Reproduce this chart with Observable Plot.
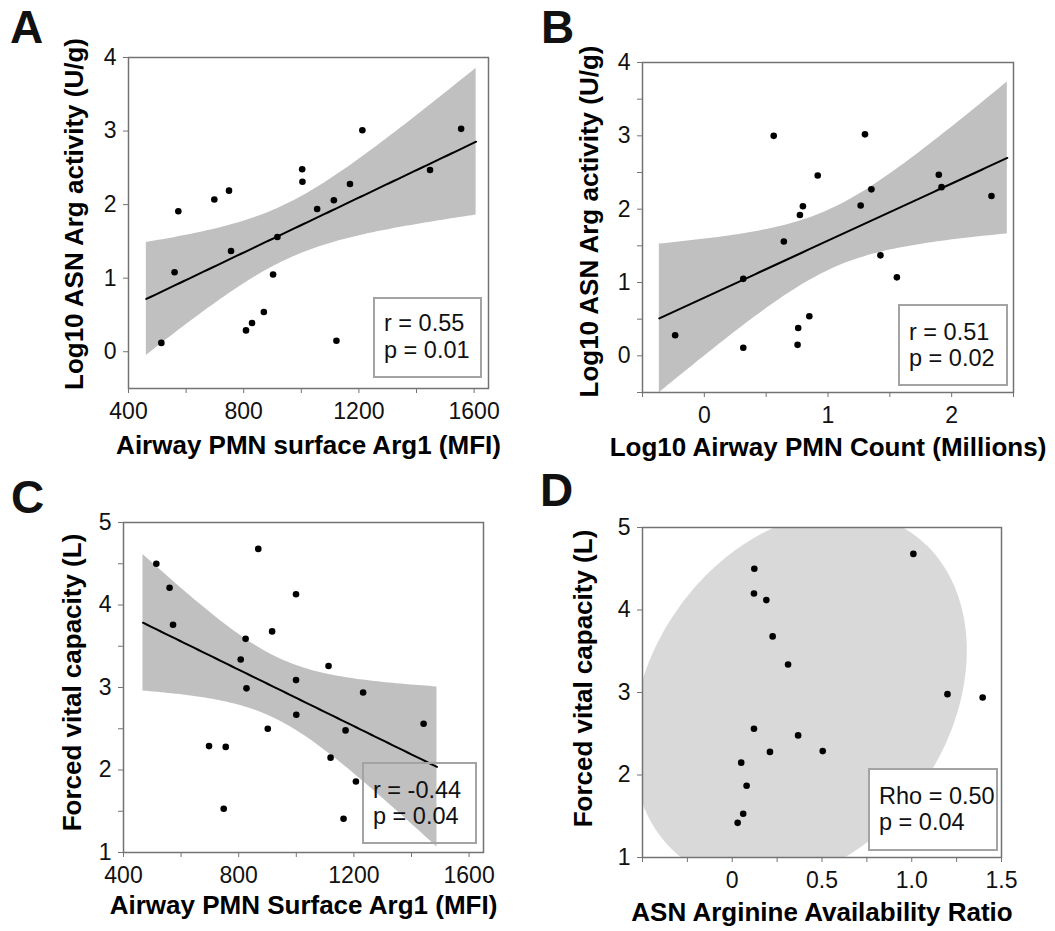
<!DOCTYPE html>
<html>
<head>
<meta charset="utf-8">
<script src="https://cdn.jsdelivr.net/npm/d3@7"></script>
<script src="https://cdn.jsdelivr.net/npm/@observablehq/plot@0.6"></script>
<style>
  body { margin: 0; background: #fff; }
  #fig { position: relative; width: 1055px; height: 931px; font-family: "Liberation Sans", Arial, sans-serif; color: #111; }
  .panel { position: absolute; }
  .letter { position: absolute; font-weight: bold; font-size: 46px; line-height: 46px; }
  .stat { position: absolute; box-sizing: border-box; border: 2.5px solid #a3a3a3; font-size: 23.5px; line-height: 26.5px; padding-left: 9px; white-space: nowrap; }
</style>
</head>
<body>
<div id="fig"></div>
<script>
// ---------- Panel A: Airway PMN surface Arg1 (MFI) vs Log10 ASN Arg activity ----------
const aArg1MFI     = [514, 560, 573, 698, 749, 756, 808, 829, 870, 902, 917, 1003, 1004, 1055, 1113, 1122, 1169, 1212, 1447, 1555];
const aArgActivity = [0.12, 1.08, 1.91, 2.07, 2.19, 1.37, 0.29, 0.39, 0.54, 1.05, 1.56, 2.48, 2.31, 1.94, 2.06, 0.15, 2.28, 3.01, 2.47, 3.03];

// ---------- Panel B: Log10 Airway PMN count vs Log10 ASN Arg activity ----------
const bPMNCount    = [-0.236, 0.315, 0.315, 0.561, 0.643, 0.754, 0.759, 0.773, 0.797, 0.849, 0.917, 1.264, 1.299, 1.351, 1.424, 1.557, 1.896, 1.918, 2.322];
const bArgActivity = [0.28, 1.05, 0.11, 3.00, 1.56, 0.15, 0.38, 1.92, 2.04, 0.54, 2.46, 2.05, 3.02, 2.27, 1.37, 1.07, 2.47, 2.30, 2.18];

// ---------- Panel C: Airway PMN Surface Arg1 (MFI) vs FVC ----------
const cArg1MFI = [514, 560, 572, 697, 748, 755, 807, 824, 827, 868, 901, 916, 999, 999, 1000, 1112, 1119, 1164, 1171, 1207, 1232, 1442];
const cFVC     = [4.50, 4.21, 3.76, 2.29, 1.53, 2.28, 3.34, 3.59, 2.99, 4.68, 2.50, 3.68, 4.13, 3.09, 2.67, 3.26, 2.15, 1.41, 2.48, 1.86, 2.94, 2.56];

// ---------- Panel D: ASN Arginine Availability Ratio vs FVC ----------
const dRatio = [0.030, 0.050, 0.061, 0.080, 0.121, 0.121, 0.123, 0.190, 0.210, 0.225, 0.311, 0.367, 0.504, 1.009, 1.199, 1.395];
const dFVC   = [1.42, 2.15, 1.53, 1.87, 2.56, 4.20, 4.50, 4.12, 2.28, 3.68, 3.34, 2.48, 2.29, 4.68, 2.98, 2.94];

// ---------- Axis titles, tick values and tick labels ----------
const titles = {
  aX: "Airway PMN surface Arg1 (MFI)", aY: "Log10 ASN Arg activity (U/g)",
  bX: "Log10 Airway PMN Count (Millions)", bY: "Log10 ASN Arg activity (U/g)",
  cX: "Airway PMN Surface Arg1 (MFI)", cY: "Forced vital capacity (L)",
  dX: "ASN Arginine Availability Ratio", dY: "Forced vital capacity (L)"
};
const aXTicks = [400, 600, 800, 1000, 1200, 1400, 1600], aXLabels = ["400", "", "800", "", "1200", "", "1600"];
const aYTicks = [0, 1, 2, 3, 4], aYLabels = ["0", "1", "2", "3", "4"];
const bXTicks = [-0.5, 0, 0.5, 1, 1.5, 2, 2.5], bXLabels = ["", "0", "", "1", "", "2", ""];
const bYTicks = [-0.5, 0, 0.5, 1, 1.5, 2, 2.5, 3, 3.5, 4], bYLabels = ["", "0", "", "1", "", "2", "", "3", "", "4"];
const cXTicks = [400, 600, 800, 1000, 1200, 1400, 1600], cXLabels = ["400", "", "800", "", "1200", "", "1600"];
const cYTicks = [1, 1.5, 2, 2.5, 3, 3.5, 4, 4.5, 5], cYLabels = ["1", "", "2", "", "3", "", "4", "", "5"];
const dXTicks = [-0.5, -0.25, 0, 0.25, 0.5, 0.75, 1, 1.25, 1.5], dXLabels = ["", "", "0", "", "0.5", "", "1.0", "", "1.5"];
const dYTicks = [1, 2, 3, 4, 5], dYLabels = ["1", "2", "3", "4", "5"];
const stats = { a: ["r = 0.55", "p = 0.01"], b: ["r = 0.51", "p = 0.02"], c: ["r = -0.44", "p = 0.04"], d: ["Rho = 0.50", "p = 0.04"] };
const ellipseLevel = 0.90;

// ---------- helpers (statistics derived from the data) ----------
function tQuantile975(df) {
  const z = 1.959964;
  return z + (z ** 3 + z) / (4 * df) + (5 * z ** 5 + 16 * z ** 3 + 3 * z) / (96 * df * df)
    + (3 * z ** 7 + 19 * z ** 5 + 17 * z ** 3 - 15 * z) / (384 * df ** 3);
}
function fitBand(xs, ys, extend = 0.05, steps = 80) {
  const n = xs.length, mx = d3.mean(xs), my = d3.mean(ys);
  let sxx = 0, sxy = 0;
  xs.forEach((x, i) => { sxx += (x - mx) ** 2; sxy += (x - mx) * (ys[i] - my); });
  const b = sxy / sxx, a = my - b * mx;
  const s = Math.sqrt(d3.sum(xs, (x, i) => (ys[i] - a - b * x) ** 2) / (n - 2));
  const t = tQuantile975(n - 2);
  const [x0, x1] = d3.extent(xs), pad = (x1 - x0) * extend;
  return d3.range(steps + 1).map(k => {
    const x = x0 - pad + (x1 - x0 + 2 * pad) * k / steps;
    const yhat = a + b * x, se = s * Math.sqrt(1 / n + (x - mx) ** 2 / sxx);
    return { x, y: yhat, lo: yhat - t * se, hi: yhat + t * se };
  });
}
function densityEllipse(xs, ys, level) {
  const n = xs.length, mx = d3.mean(xs), my = d3.mean(ys);
  let sxx = 0, syy = 0, sxy = 0;
  xs.forEach((x, i) => { sxx += (x - mx) ** 2; syy += (ys[i] - my) ** 2; sxy += (x - mx) * (ys[i] - my); });
  sxx /= n - 1; syy /= n - 1; sxy /= n - 1;
  const l11 = Math.sqrt(sxx), l21 = sxy / l11, l22 = Math.sqrt(syy - l21 * l21);
  const c = Math.sqrt(-2 * Math.log(1 - level));
  return d3.range(0, 361, 2).map(deg => {
    const th = deg * Math.PI / 180, u = Math.cos(th), v = Math.sin(th);
    return { x: mx + c * l11 * u, y: my + c * (l21 * u + l22 * v) };
  });
}
const pts = (xs, ys) => xs.map((x, i) => ({ x, y: ys[i] }));
const fmt = (ticks, labels) => d => labels[ticks.indexOf(d)] ?? "";

const FONT = "Liberation Sans, Arial, sans-serif";
const FRAME = "#737373";

function makePanel(cfg) {
  const marks = [...cfg.background,
    Plot.dot(cfg.points, { x: "x", y: "y", r: 3.3, fill: "#000", stroke: "none" }),
    Plot.frame({ stroke: FRAME, strokeWidth: 1.5 }),
    Plot.axisX({ ticks: cfg.xTicks, tickFormat: fmt(cfg.xTicks, cfg.xLabels), tickSize: 5, tickPadding: 9, stroke: FRAME, fill: "#111", label: null }),
    Plot.axisY({ ticks: cfg.yTicks, tickFormat: fmt(cfg.yTicks, cfg.yLabels), tickSize: 5, tickPadding: 7, stroke: FRAME, fill: "#111", label: null }),
    Plot.text([cfg.xTitle], { frameAnchor: "bottom", textAnchor: "middle", lineAnchor: "top", dy: cfg.xTitleDy, fontWeight: "bold", fontSize: 26, fill: "#000" }),
    Plot.text([cfg.yTitle], { frameAnchor: "left", rotate: -90, textAnchor: "middle", lineAnchor: "bottom", dx: cfg.yTitleDx, dy: cfg.yTitleShift || 0, fontWeight: "bold", fontSize: 26, fill: "#000" })
  ];
  return Plot.plot({
    width: cfg.width, height: cfg.height,
    marginLeft: cfg.m[0], marginTop: cfg.m[1], marginRight: cfg.m[2], marginBottom: cfg.m[3],
    x: { domain: cfg.xDomain, label: null },
    y: { domain: cfg.yDomain, label: null },
    style: { fontFamily: FONT, fontSize: "23px", background: "transparent", overflow: "visible" },
    marks
  });
}

const bandMarks = (band) => [
  Plot.areaY(band, { x: "x", y1: "lo", y2: "hi", fill: "#c0c0c0", clip: true }),
  Plot.line(band, { x: "x", y: "y", stroke: "#000", strokeWidth: 2, clip: true })
];

const panels = [
  { key: "a", left: 0, top: 0, width: 520, height: 480, m: [128, 57, 32, 92],
    xDomain: [400, 1650], yDomain: [-0.5, 4], xTicks: aXTicks, xLabels: aXLabels, yTicks: aYTicks, yLabels: aYLabels,
    points: pts(aArg1MFI, aArgActivity), background: bandMarks(fitBand(aArg1MFI, aArgActivity)),
    xTitle: titles.aX, yTitle: titles.aY, xTitleDy: 47, yTitleDx: -46, yTitleShift: -9 },
  { key: "b", left: 530, top: 0, width: 525, height: 480, m: [112, 62, 42, 88],
    xDomain: [-0.5, 2.5], yDomain: [-0.5, 4], xTicks: bXTicks, xLabels: bXLabels, yTicks: bYTicks, yLabels: bYLabels,
    points: pts(bPMNCount, bArgActivity), background: bandMarks(fitBand(bPMNCount, bArgActivity)),
    xTitle: titles.bX, yTitle: titles.bY, xTitleDy: 45, yTitleDx: -45, yTitleShift: -6 },
  { key: "c", left: 0, top: 470, width: 520, height: 461, m: [123, 52, 37, 79],
    xDomain: [400, 1650], yDomain: [1, 5], xTicks: cXTicks, xLabels: cXLabels, yTicks: cYTicks, yLabels: cYLabels,
    points: pts(cArg1MFI, cFVC), background: bandMarks(fitBand(cArg1MFI, cFVC)),
    xTitle: titles.cX, yTitle: titles.cY, xTitleDy: 43, yTitleDx: -43, yTitleShift: -5 },
  { key: "d", left: 530, top: 470, width: 525, height: 461, m: [112, 57, 54, 74],
    xDomain: [-0.5, 1.5], yDomain: [1, 5], xTicks: dXTicks, xLabels: dXLabels, yTicks: dYTicks, yLabels: dYLabels,
    points: pts(dRatio, dFVC),
    background: [Plot.line(densityEllipse(dRatio, dFVC, ellipseLevel), { x: "x", y: "y", fill: "#d9d9d9", stroke: "none", curve: "linear-closed", clip: true })],
    xTitle: titles.dX, yTitle: titles.dY, xTitleDy: 45, yTitleDx: -51, yTitleShift: -14 }
];

const fig = document.getElementById("fig");
for (const p of panels) {
  const div = document.createElement("div");
  div.className = "panel";
  div.style.left = p.left + "px"; div.style.top = p.top + "px";
  div.appendChild(makePanel(p));
  fig.appendChild(div);
}

// panel letters
[["A", 10, 4], ["B", 541, 4], ["C", 11, 474], ["D", 540, 467]].forEach(([t, l, tp]) => {
  const el = document.createElement("div");
  el.className = "letter"; el.textContent = t;
  el.style.left = l + "px"; el.style.top = tp + "px";
  fig.appendChild(el);
});

// statistic boxes
[["a", 373, 297, 109, 81, 11, "#fff"], ["b", 898, 304, 110, 82, 12.5, "#fff"],
 ["c", 362, 762, 115, 82, 12.5, "transparent"], ["d", 868, 768, 130, 83, 12.5, "#fff"]].forEach(([k, l, t, w, h, pt, bg]) => {
  const el = document.createElement("div");
  el.className = "stat";
  el.style.left = l + "px"; el.style.top = t + "px"; el.style.width = w + "px"; el.style.height = h + "px";
  el.style.paddingTop = pt + "px"; el.style.background = bg;
  stats[k].forEach(s => { const line = document.createElement("div"); line.textContent = s; el.appendChild(line); });
  fig.appendChild(el);
});
</script>
</body>
</html>
